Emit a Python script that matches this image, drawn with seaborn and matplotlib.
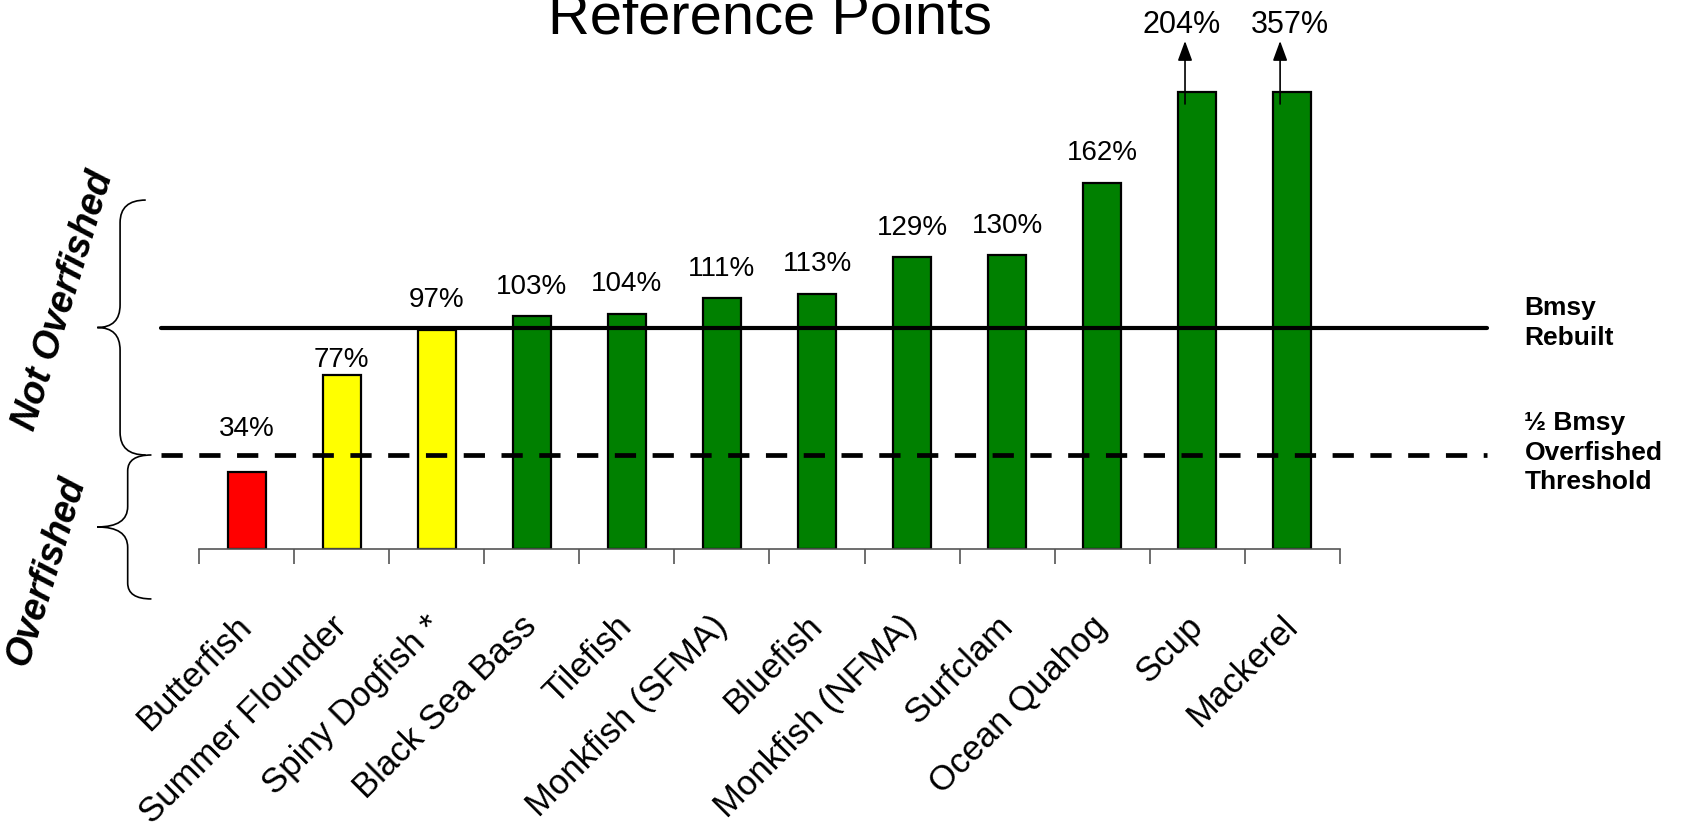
import numpy as np
import pandas as pd
import seaborn as sns
import matplotlib.pyplot as plt
from matplotlib.path import Path
from matplotlib.patches import PathPatch

# stock size as % of Bmsy
species = ["Butterfish", "Summer Flounder", "Spiny Dogfish *", "Black Sea Bass", "Tilefish",
           "Monkfish (SFMA)", "Bluefish", "Monkfish (NFMA)", "Surfclam", "Ocean Quahog",
           "Scup", "Mackerel"]
pct_bmsy = [34, 77, 97, 103, 104, 111, 113, 129, 130, 162, 204, 357]
status = ["overfished", "below", "below", "rebuilt", "rebuilt", "rebuilt", "rebuilt",
          "rebuilt", "rebuilt", "rebuilt", "rebuilt", "rebuilt"]
bar_cap = 202          # bars taller than this are cut off and get an arrow
bmsy_level = 98        # solid "Bmsy / Rebuilt" line
half_bmsy_level = 41.6 # dashed "1/2 Bmsy" line

status_colors = {"overfished": "#FF0000", "below": "#FFFF00", "rebuilt": "#008000"}

sns.set_style("white")
plt.rcParams["font.family"] = ["Liberation Sans", "DejaVu Sans"]
plt.rcParams["text.color"] = "black"
plt.rcParams["xtick.color"] = "black"

df = pd.DataFrame({"species": species, "pct": pct_bmsy, "status": status})
df["shown"] = df["pct"].clip(upper=bar_cap)

W, H = 1682, 832
fig = plt.figure(figsize=(W / 100, H / 100), dpi=100)
ax = fig.add_axes([199 / W, 283 / H, 1141 / W, 220 * 2.26 / H])

sns.barplot(data=df, x="species", y="shown", hue="status", palette=status_colors,
            dodge=False, legend=False, width=0.4, saturation=1,
            edgecolor="black", linewidth=1.6, ax=ax, zorder=2)

ax.set_xlim(-0.5, len(species) - 0.5)
ax.set_ylim(0, 220)
ax.set_xlabel("")
ax.set_ylabel("")
ax.set_yticks([])
sns.despine(ax=ax, left=True, top=True, right=True)
ax.spines["bottom"].set_color("#555555")
ax.spines["bottom"].set_linewidth(1.2)

# category labels, with boundary ticks between the bars
ax.set_xticks(range(len(species)))
ax.set_xticklabels(species, rotation=45, ha="right", va="center",
                   rotation_mode="anchor", fontsize=25, color="black")
ax.tick_params(axis="x", which="major", bottom=False, length=0, pad=52)
ax.set_xticks(np.arange(-0.5, len(species), 1), minor=True)
ax.tick_params(axis="x", which="minor", bottom=True, direction="out", length=11,
               width=1.2, color="#555555")

# reference lines
ax.plot([-0.9, 13.05], [bmsy_level, bmsy_level], color="black", lw=3, clip_on=False, zorder=4)
ax.plot([-0.9, 13.05], [half_bmsy_level, half_bmsy_level], color="black", lw=3.4,
        dashes=(4.5, 3.5), clip_on=False, zorder=4)

# value labels
gaps = {0: 16, 1: 3.5}
top_shift = {10: -0.17, 11: -0.03}
for i, row in df.iterrows():
    if row["pct"] > bar_cap:
        ax.annotate("", xy=(i - 0.13, 224.8), xytext=(i - 0.13, 196.9),
                    arrowprops=dict(arrowstyle="-|>,head_length=0.6,head_width=0.22",
                                    color="black", lw=1.2, mutation_scale=20,
                                    shrinkA=0, shrinkB=0),
                    annotation_clip=False, zorder=5)
        ax.text(i + top_shift.get(i, 0), 228.3, f"{row['pct']}%", ha="center",
                va="baseline", fontsize=22, clip_on=False)
    else:
        ax.text(i, row["pct"] + gaps.get(i, 10), f"{row['pct']}%", ha="center",
                va="baseline", fontsize=20)

# right-side line labels
ax.text(13.44, bmsy_level + 2, "Bmsy\nRebuilt", ha="left", va="center",
        fontsize=19, fontweight="bold", linespacing=1.3, clip_on=False)
ax.text(13.44, half_bmsy_level + 1, "\u00bd Bmsy\nOverfished\nThreshold", ha="left",
        va="center", fontsize=19, fontweight="bold", linespacing=1.3, clip_on=False)


def brace(x_end, x_spine, x_tip, y_top, y_bot, r_end, r_tip):
    y_mid = (y_top + y_bot) / 2
    verts = [(x_end, y_top), (x_spine, y_top), (x_spine, y_top - r_end),
             (x_spine, y_mid + r_tip),
             (x_spine, y_mid), (x_tip, y_mid),
             (x_spine, y_mid), (x_spine, y_mid - r_tip),
             (x_spine, y_bot + r_end),
             (x_spine, y_bot), (x_end, y_bot)]
    codes = [Path.MOVETO, Path.CURVE3, Path.CURVE3, Path.LINETO,
             Path.CURVE3, Path.CURVE3, Path.CURVE3, Path.CURVE3,
             Path.LINETO, Path.CURVE3, Path.CURVE3]
    ax.add_patch(PathPatch(Path(verts, codes), fill=False, lw=1.2, color="black",
                           clip_on=False))


brace(-1.06, -1.33, -1.57, 154.4, half_bmsy_level, 10, 10)
brace(-1.0, -1.25, -1.57, half_bmsy_level, -22.1, 7, 9)

ax.text(-1.92, 110, "Not Overfished", rotation=73, ha="center", va="center",
        rotation_mode="anchor", fontsize=27, fontweight="bold", fontstyle="italic",
        clip_on=False)
ax.text(-2.11, -9.7, "Overfished", rotation=73, ha="center", va="center",
        rotation_mode="anchor", fontsize=27, fontweight="bold", fontstyle="italic",
        clip_on=False)

fig.text(770 / W, 1 - 33 / H, "Reference Points", ha="center", va="baseline", fontsize=41.7)

fig.savefig("out.png", dpi=100, facecolor="white")
